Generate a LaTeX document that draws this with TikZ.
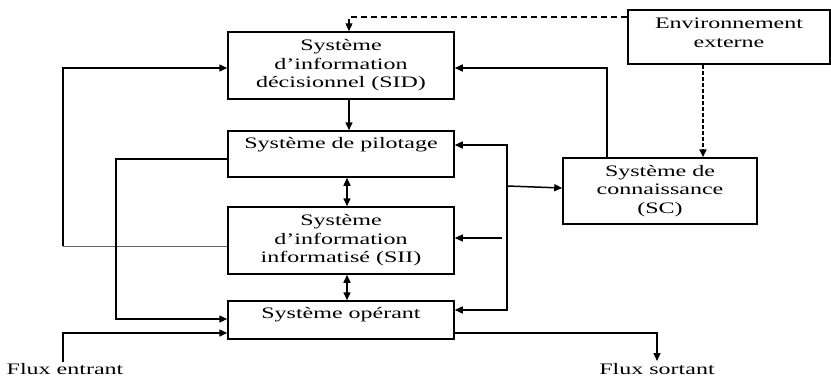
\documentclass[tikz,border=0pt]{standalone}
\usepackage{fontspec}
\setmainfont{Liberation Serif}[FakeStretch=1.5]
\usetikzlibrary{arrows.meta}
\begin{document}
\begin{tikzpicture}[x=1pt,y=-1pt,
  box/.style={draw,line width=1.5pt,minimum width=226pt,inner sep=0pt},
  txt/.style={align=center,font=\fontsize{16}{18.5}\selectfont,inner sep=0pt},
  ln/.style={line width=1.5pt},
  arr/.style={ln,-{Triangle[length=8pt,width=7pt]}},
  darr/.style={ln,{Triangle[length=8pt,width=7pt]}-{Triangle[length=8pt,width=7pt]}}]
\useasboundingbox (0,0) rectangle (831,378);
% boxes
\node[box,minimum height=67pt] (SID) at (341,65.5) {};
\node[txt] at (SID.center) {Système\\d’information\\décisionnel (SID)};
\node[box,minimum height=46pt] (pil) at (341,154) {};
\node[txt] at (341,145) {Système de pilotage};
\node[box,minimum height=67pt] (SII) at (341,240.5) {};
\node[txt] at (SII.center) {Système\\d’information\\informatisé (SII)};
\node[box,minimum height=38pt] (op) at (341,320) {};
\node[txt] at (341,315) {Système opérant};
\node[box,minimum width=202pt,minimum height=54pt] (env) at (729,37) {};
\node[txt] at (729,33) {Environnement\\externe};
\node[box,minimum width=194pt,minimum height=66pt] (SC) at (660,191) {};
\node[txt] at (SC.center) {Système de\\connaissance\\(SC)};
% coordinates
\coordinate (vt) at (507,145);
\coordinate (vb) at (507,310);
\coordinate (vm) at (507,186);
\coordinate (sii) at (502,238);
\coordinate (lo) at (63,68);
\coordinate (li) at (116,159);
\coordinate (fe) at (63,362);
\coordinate (fs) at (657,361);
% dashed / dotted from environment
\draw[arr,dash pattern=on 6pt off 4pt,line width=1.3pt] (env.west |- 0,17) -| ([xshift=8pt]SID.north);
\draw[arr,dash pattern=on 4pt off 2pt,line width=2pt] (env.south -| 703,0) -- (SC.north -| 703,0);
% SC -> SID
\draw[arr] (SC.north -| 607,0) |- (SID.east |- 0,68);
% vertical chain
\draw[arr] ([xshift=8pt]SID.south) -- ([xshift=8pt]pil.north);
\draw[darr] ([xshift=6pt]pil.south) -- ([xshift=6pt]SII.north);
\draw[darr] ([xshift=6pt]SII.south) -- ([xshift=6pt]op.north);
% right bus
\draw[darr] (pil.east |- vt) -- (vt) -- (vb) -- (op.east |- vb);
\draw[arr] (vm) -- (SC.west |- 0,188);
\draw[arr,line width=1.1pt] (sii) -- (SII.east |- sii);
% left loops
\draw[line width=1pt,black!60] (SII.west |- 0,246) -- (63,246);
\draw[arr] (63,246) -- (lo) -- (SID.west |- lo);
\draw[arr] (pil.west |- li) -- (li) |- (op.west |- 0,319);
% flux
\draw[arr] (fe) |- (op.west |- 0,333);
\draw[arr] (op.east |- 0,333) -| (fs);
\node[txt] at (65,369) {Flux entrant};
\node[txt] at (657,369) {Flux sortant};
\end{tikzpicture}
\end{document}
